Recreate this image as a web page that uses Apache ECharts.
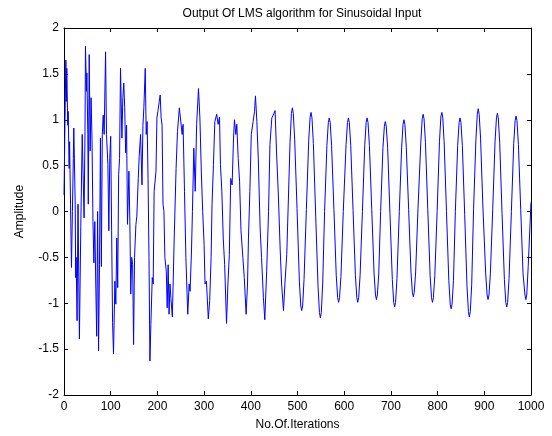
<!DOCTYPE html>
<html lang="en">
<head>
  <meta charset="UTF-8">
  <title>LMS output</title>
  <style>
    * { margin: 0; padding: 0; }
    body { background: #fff; }
    #main { width: 552px; height: 436px; }
  </style>
</head>
<body>
  <div id="main"></div>
  <script src="https://cdn.jsdelivr.net/npm/echarts@6/dist/echarts.min.js"></script>
  <script>
    // x ticks / y ticks
    var xTicks = [0, 100, 200, 300, 400, 500, 600, 700, 800, 900, 1000];
    var yTicks = [-2, -1.5, -1, -0.5, 0, 0.5, 1, 1.5, 2];

    // start-up: noisy part
    var startIter = [0, 2, 4, 5, 6, 8, 9, 11, 12, 14, 16, 18, 20, 21, 24, 25, 26, 28, 30, 33, 36, 39, 41, 43, 45, 46, 48, 49, 51, 52,
      54, 56, 58, 60, 62, 64, 66, 68, 70, 72, 74, 76, 78, 80, 82, 84, 86, 89, 91, 94, 96, 98, 100, 102, 104, 106, 109, 111, 113, 115,
      117, 119, 121, 124, 126, 128, 130, 132, 134, 136, 139, 141, 143, 145, 147, 149, 151, 154, 156, 159, 161, 164, 167, 169, 171, 174,
      176, 178, 180, 182, 184, 186, 189, 191, 193, 195, 197, 199, 201, 204, 206, 208, 210, 212, 214, 216, 219, 221, 223, 225, 227, 229];
    var startAmp = [0.18, 0.94, 1.65, 1.20, 1.56, 0.94, 1.09, 0.47, 0.76, 0.08, -0.61, 0.00, 0.58, 0.91, 0.08, -0.72, -0.50, -1.19, 0.08, -1.39,
      -0.16, 0.84, 0.84, -0.07, 0.87, 1.80, 1.31, 1.51, 0.84, 0.08,
      1.71, 0.66, 1.24, 0.78, -0.11, -0.56, -0.11, -0.79, -1.36, 0.00, -1.52, -0.58, 0.80, -0.60, 0.84, 1.05, 0.84, 1.74, 0.84, 0.51,
      -0.21, 0.58, 0.82, -0.21, -1.21, -1.55, -0.76, -1.01, -0.29, -0.83,
      0.40, 0.58, 1.56, 0.80, 1.24, 1.40, 1.13, 0.64, 0.94, -0.14, 0.44, -0.11, -0.90, -0.50, -0.58, -1.45, -0.50, -0.14, -0.05, 0.36,
      0.60, 0.84, 0.29, 0.94, 1.13, 1.56,
      0.84, 0.98, 0.36, -0.50, -1.63, -1.23, -0.72, -0.79, 0.22, 0.22, 0.44, 1.02, 1.09, 1.20, 1.27, 1.02, 0.94, 0.08, 0.00, -0.50,
      -0.65, -1.05, -0.58, -1.12, -0.79, -0.95];

    // settling part
    var settleIter = [232, 236, 240, 243, 247, 250, 253, 255, 258, 261, 265, 268, 270, 273, 275, 278, 281, 284, 288, 291, 294, 297, 300,
      302, 305, 309, 312, 315, 317, 320, 323, 327, 330, 333, 335, 338, 341, 344, 348, 351, 354, 357, 360, 363, 365, 368, 370, 373, 376,
      379, 383, 386, 390, 393, 395, 398, 401, 405, 408, 410, 413, 416, 420, 423, 427, 430, 434, 438, 441, 445, 448, 452, 455, 459, 463,
      466, 470, 473, 477, 480, 484];
    var settleAmp = [-1.15, -0.29, 0.47, 0.87, 1.13, 1.15, 0.84, 0.95, 0.22, -0.50, -1.12, -0.79, -0.87, -0.43, 0.00, 0.69, 0.22, 0.95,
      1.34, 1.02, 0.44, 0.00, -0.36,
      -0.79, -0.76, -1.17, -0.97, -0.50, 0.08, 0.51, 0.98, 1.06, 0.95, 1.03, 0.51, 0.22, -0.29, -0.58, -1.22, -0.79, -0.47, 0.36, 0.29,
      0.80, 1.00, 0.84, 0.95, 0.58, 0.33,
      -0.21, -0.50, -0.72, -1.12, -0.79, -0.29, 0.22, 0.84, 0.98, 1.09, 1.26, 0.98, 0.58, -0.18, -0.50, -0.94, -1.18, -0.65, 0.00, 0.73,
      1.02, 1.05, 1.10, 0.66, 0.18, -0.43,
      -0.79, -1.08, -0.79, -0.47, 0.05, 0.75];

    // steady part
    var steadyIter = [487, 489, 491, 494, 499, 504, 507, 509, 511, 514, 519, 524, 527, 529, 531, 534, 539, 544, 547, 549, 551, 554,
      558, 563, 566, 568, 570, 573, 578, 583, 586, 588, 590, 593, 598, 604, 607, 609, 611, 614, 619, 624, 627, 629, 631, 634,
      639, 644, 647, 649, 651, 654, 659, 664, 667, 669, 671, 674, 678, 683, 686, 688, 690, 693, 698, 703, 706, 708, 710, 713,
      718, 723, 726, 728, 730, 733, 738, 743, 746, 748, 750, 753, 758, 764, 767, 769, 771, 774, 779, 784, 787, 789, 791, 794,
      799, 804, 807, 809, 811, 814, 819, 824, 827, 829, 831, 834, 838, 843, 846, 848, 850, 853, 858, 863, 866, 868, 870, 873,
      877, 882, 885, 887, 889, 892, 897, 903, 906, 908, 910, 913, 918, 923, 926, 928, 930, 933, 938, 943, 946, 948, 950, 953,
      958, 963, 966, 968, 970, 973, 978, 983, 987, 989, 991, 994, 1000];
    var steadyAmp = [1.07, 1.13, 1.07, 0.78, 0.03, -0.76, -1.03, -1.08, -1.03, -0.74, 0.02, 0.77, 1.03, 1.08, 1.02, 0.74, -0.05, -0.82, -1.10, -1.16, -1.10, -0.78,
      0.00, 0.72, 0.97, 1.02, 0.97, 0.72, 0.02, -0.70, -0.94, -0.99, -0.94, -0.71, 0.00, 0.73, 0.97, 1.02, 0.97, 0.72, 0.01, -0.70, -0.94, -0.99, -0.94, -0.70,
      0.00, 0.72, 0.97, 1.02, 0.97, 0.72, 0.02, -0.68, -0.91, -0.96, -0.91, -0.68, 0.00, 0.70, 0.93, 0.98, 0.93, 0.70, -0.02, -0.74, -0.99, -1.04, -0.99, -0.73,
      0.00, 0.70, 0.95, 1.00, 0.95, 0.70, 0.02, -0.66, -0.88, -0.93, -0.88, -0.66, 0.03, 0.75, 1.01, 1.06, 1.01, 0.75, 0.02, -0.70, -0.94, -0.99, -0.94, -0.70,
      0.00, 0.76, 1.03, 1.08, 1.03, 0.76, 0.00, -0.75, -1.01, -1.06, -1.01, -0.75, 0.00, 0.72, 0.97, 1.02, 0.97, 0.72, -0.03, -0.82, -1.09, -1.15, -1.09, -0.80,
      0.02, 0.78, 1.06, 1.12, 1.06, 0.80, 0.05, -0.68, -0.91, -0.96, -0.91, -0.68, 0.02, 0.76, 1.02, 1.07, 1.02, 0.75, -0.02, -0.74, -0.99, -1.04, -0.99, -0.73,
      0.00, 0.74, 0.99, 1.04, 0.99, 0.73, 0.02, -0.68, -0.91, -0.96, -0.90, -0.60, 0.10];

    var iterations = startIter.concat(settleIter, steadyIter);
    var amplitude = startAmp.concat(settleAmp, steadyAmp);
    var lmsData = iterations.map(function (x, i) { return [x, amplitude[i]]; });

    var font = 'Liberation Sans, Arial, sans-serif';
    var chart = echarts.init(document.getElementById('main'));

    // matlab style box: ticks inside on all four sides
    function boxAxis(extra) {
      var base = {
        axisLine: { show: true, onZero: false, lineStyle: { color: '#000', width: 1 } },
        axisTick: { show: true, inside: true, length: 4, lineStyle: { color: '#000' } },
        splitLine: { show: false }
      };
      return Object.assign(base, extra);
    }

    var option = {
      animation: false,
      backgroundColor: '#fff',
      title: {
        text: 'Output Of LMS algorithm for Sinusoidal Input',
        left: 297, top: 3, textAlign: 'center',
        textStyle: { fontFamily: font, fontSize: 12, fontWeight: 'normal', color: '#000' }
      },
      grid: { left: 64, right: 21, top: 28, bottom: 41 },
      xAxis: [
        boxAxis({
          type: 'value', min: xTicks[0], max: xTicks[xTicks.length - 1], interval: 100,
          position: 'bottom',
          name: 'No.Of.Iterations', nameLocation: 'middle', nameGap: 24,
          nameTextStyle: { fontFamily: font, fontSize: 12, color: '#000' },
          axisLabel: { fontFamily: font, fontSize: 12, color: '#000', margin: 6,
            formatter: function (v) { return String(v); } }
        }),
        boxAxis({
          type: 'value', min: xTicks[0], max: xTicks[xTicks.length - 1], interval: 100,
          position: 'top', axisLabel: { show: false }
        })
      ],
      yAxis: [
        boxAxis({
          type: 'value', min: yTicks[0], max: yTicks[yTicks.length - 1], interval: 0.5,
          position: 'left',
          name: 'Amplitude', nameLocation: 'middle', nameGap: 38,
          nameTextStyle: { fontFamily: font, fontSize: 12, color: '#000' },
          axisLabel: { fontFamily: font, fontSize: 12, color: '#000', margin: 5 }
        }),
        boxAxis({
          type: 'value', min: yTicks[0], max: yTicks[yTicks.length - 1], interval: 0.5,
          position: 'right', axisLabel: { show: false }
        })
      ],
      series: [{
        name: 'LMS output',
        type: 'line',
        data: lmsData,
        showSymbol: false,
        symbol: 'none',
        lineStyle: { color: '#0000ff', width: 1 },
        clip: true
      }]
    };
    chart.setOption(option);
  </script>
</body>
</html>
